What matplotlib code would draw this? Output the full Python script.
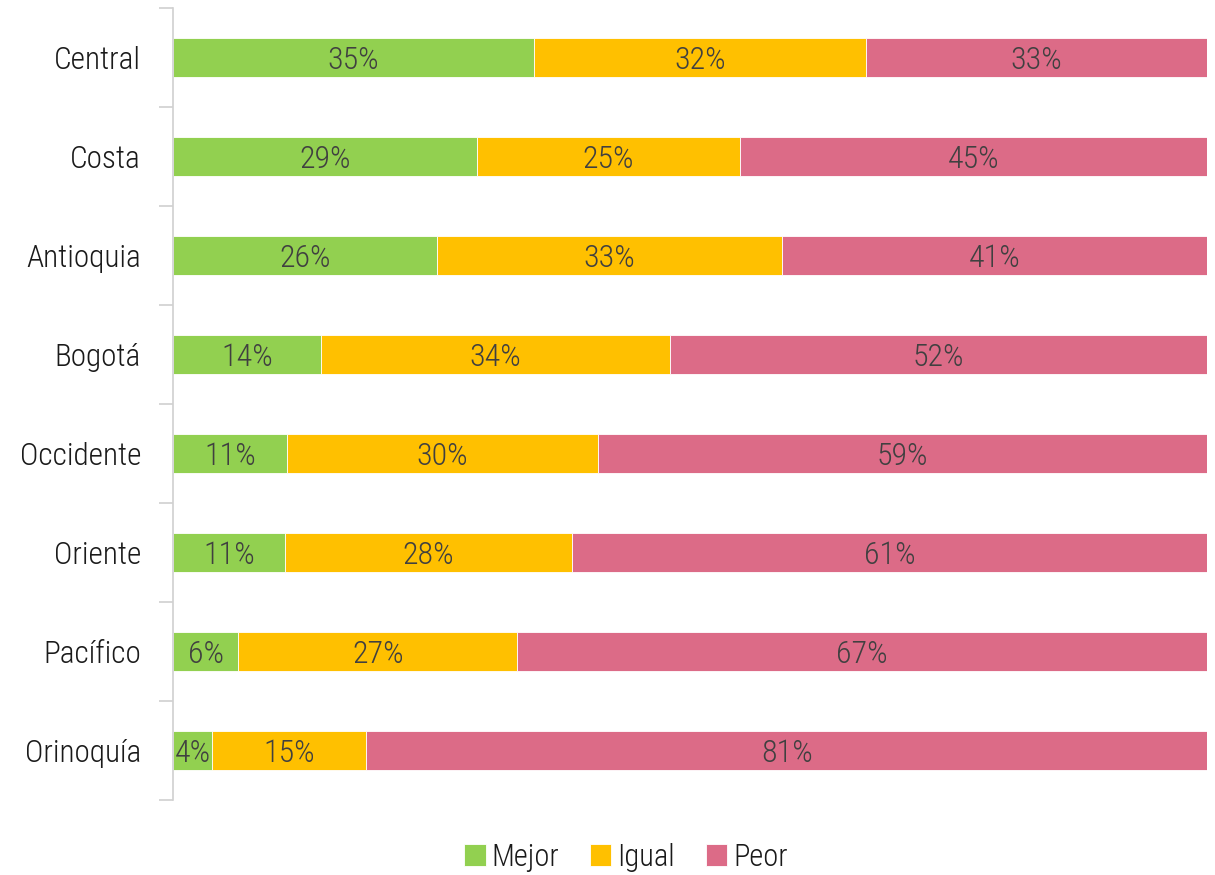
import numpy as np
import matplotlib.pyplot as plt
from matplotlib import font_manager

regiones = ['Central', 'Costa', 'Antioquia', 'Bogotá', 'Occidente', 'Oriente', 'Pacífico', 'Orinoquía']
mejor = [34.9, 29.4, 25.5, 14.3, 11.0, 10.8, 6.3, 3.8]
igual = [32.1, 25.4, 33.4, 33.8, 30.1, 27.8, 27.0, 14.9]
peor = [33.0, 45.2, 41.1, 51.9, 58.9, 61.4, 66.7, 81.3]

series = ['Mejor', 'Igual', 'Peor']
colores = ['#92D050', '#FFC000', '#DC6B87']

names = {f.name for f in font_manager.fontManager.ttflist}
fam = [f for f in ['Roboto Condensed', 'Roboto', 'DejaVu Sans'] if f in names]
plt.rcParams['font.family'] = fam

data = np.array([mejor, igual, peor], dtype=float)
pct = data / data.sum(axis=0) * 100

fig = plt.figure(figsize=(12.15, 8.75), dpi=100)
ax = fig.add_axes([173 / 1215, 1 - 800 / 875, (1207 - 173) / 1215, 792 / 875])

y = np.arange(len(regiones))
left = np.zeros(len(regiones))
for i in range(3):
    ax.barh(y, pct[i], left=left, height=0.4, color=colores[i], label=series[i],
            edgecolor='white', linewidth=0.6)
    for j in range(len(regiones)):
        ax.text(left[j] + pct[i][j] / 2, y[j] + 0.03, f'{data[i][j]:.0f}%', ha='center', va='center',
                fontsize=23, color='#404040', fontweight='light')
    left += pct[i]

ax.set_xlim(0, 100)
ax.set_ylim(len(regiones) - 0.5, -0.5)
ax.set_yticks(y)
ax.set_yticklabels(regiones, fontsize=22.5, color='#1a1a1a', fontweight='light')
ax.set_yticks(np.arange(-0.5, len(regiones)), minor=True)
ax.tick_params(axis='y', which='major', length=0, pad=23)
ax.tick_params(axis='y', which='minor', length=10, color='#d0d0d0', width=1.2)
ax.set_xticks([])
for s in ['top', 'right', 'bottom']:
    ax.spines[s].set_visible(False)
ax.spines['left'].set_color('#d0d0d0')
ax.spines['left'].set_linewidth(1.2)

leg = fig.legend(loc='center', bbox_to_anchor=(626 / 1215, 1 - 857 / 875), ncol=3, frameon=False,
                 fontsize=22, handlelength=0.7, handleheight=0.7, handletextpad=0.2,
                 columnspacing=1.0)
for t in leg.get_texts():
    t.set_color('#1a1a1a')
    t.set_fontweight('light')

fig.savefig('out.png', dpi=100)
